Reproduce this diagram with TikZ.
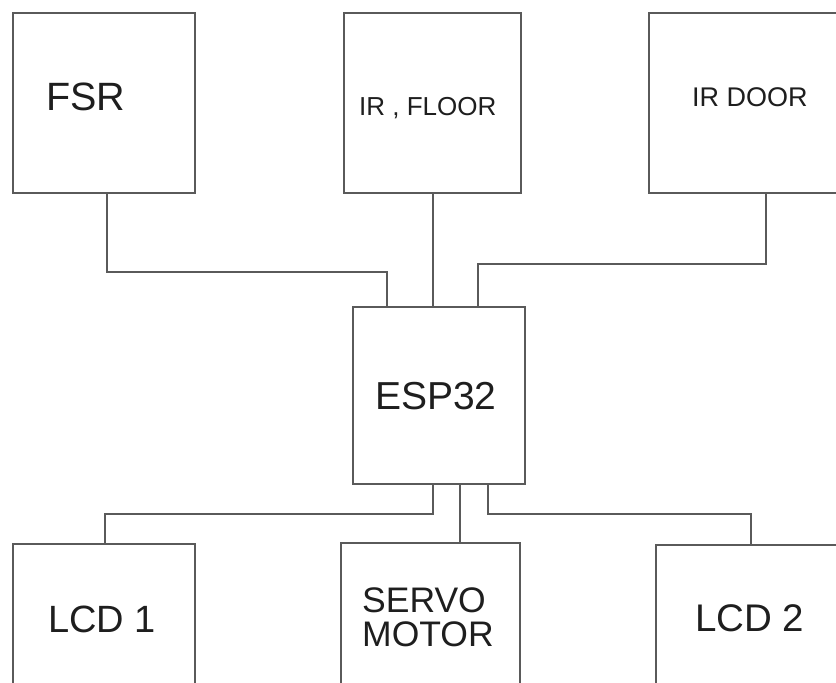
\documentclass[tikz,border=0pt]{standalone}
\usepackage{fontspec}
\setmainfont{Liberation Sans}
\usetikzlibrary{calc}
\definecolor{linec}{HTML}{5A5A5A}
\definecolor{textc}{HTML}{1E1E1E}
\tikzset{
  box/.style={draw=linec, line width=2pt, inner sep=0pt, outer sep=0pt},
  wire/.style={draw=linec, line width=2pt},
  lbl/.style={anchor=base west, inner sep=0pt, text=textc},
}
\begin{document}
\begin{tikzpicture}[x=1pt,y=-1pt]
\useasboundingbox (0,0) rectangle (836,683);
\fill[white] (0,0) rectangle (836,683);
\clip (0,0) rectangle (836,683);
% boxes
\node[box, minimum width=182pt, minimum height=180pt] (fsr) at (104,102.7) {};
\node[box, minimum width=176.4pt, minimum height=180pt] (irf) at (432.5,102.7) {};
\node[box, minimum width=201pt, minimum height=180pt] (ird) at (749.5,102.7) {};
\node[box, minimum width=172pt, minimum height=177pt] (esp) at (439,395.5) {};
\node[box, minimum width=182pt, minimum height=156pt] (lcda) at (104,622) {};
\node[box, minimum width=179pt, minimum height=157pt] (servo) at (430.5,621.5) {};
\node[box, minimum width=194pt, minimum height=155pt] (lcdb) at (753,622.5) {};
% labels
\node[lbl, font=\fontsize{39.5}{40}\selectfont] (tfsr) at (46,110) {FSR};
\node[lbl, font=\fontsize{26}{28}\selectfont] (tirf) at (359,115) {IR , FLOOR};
\node[lbl, font=\fontsize{27}{29}\selectfont] (tird) at (692,106) {IR DOOR};
\node[lbl, font=\fontsize{39}{40}\selectfont] (tesp) at (375,409) {ESP32};
\node[lbl, font=\fontsize{38}{40}\selectfont] (tlcda) at (48,632) {LCD 1};
\node[lbl, font=\fontsize{35.5}{34}\selectfont, align=left, anchor=north west] (tservo) at (362,588) {SERVO\\MOTOR};
\node[lbl, font=\fontsize{38.5}{40}\selectfont] (tlcdb) at (695,631) {LCD 2};
% connectors top
\draw[wire] ([xshift=3pt]fsr.south) -- ++(0,79.3) -| ([xshift=-52pt]esp.north);
\draw[wire] (irf.south) -- (irf.south |- esp.north);
\draw[wire] ([xshift=16.5pt]ird.south) -- ++(0,71.3) -| ([xshift=39pt]esp.north);
% connectors bottom
\draw[wire] ([xshift=-6pt]esp.south) -- ++(0,30) -| ([xshift=1pt]lcda.north);
\draw[wire] ([xshift=21pt]esp.south) -- ([xshift=21pt]esp.south |- servo.north);
\draw[wire] ([xshift=49pt]esp.south) -- ++(0,30) -| ([xshift=-2pt]lcdb.north);
\end{tikzpicture}
\end{document}
